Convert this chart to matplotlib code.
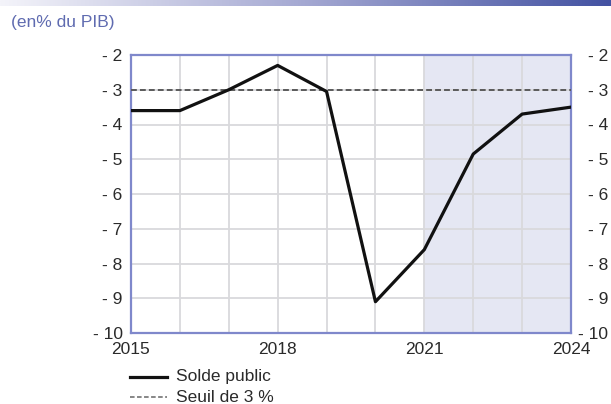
import numpy as np
import matplotlib
matplotlib.use("Agg")
import matplotlib.pyplot as plt
from matplotlib.colors import LinearSegmentedColormap
from matplotlib.lines import Line2D

plt.rcParams['font.family'] = ['Liberation Sans', 'DejaVu Sans']

years = [2015, 2016, 2017, 2018, 2019, 2020, 2021, 2022, 2023, 2024]
solde_public = [-3.6, -3.6, -3.0, -2.3, -3.05, -9.1, -7.6, -4.85, -3.7, -3.5]
seuil = -3.0
forecast_start = 2021
yticks = [-2, -3, -4, -5, -6, -7, -8, -9, -10]
xticks = [2015, 2018, 2021, 2024]
ytick_labels = [f"- {abs(v)}" for v in yticks]

W, H = 611, 404
fig = plt.figure(figsize=(W / 100, H / 100), dpi=100)

# banner gradient across the top edge
band = fig.add_axes([0, 1 - 6 / H, 1, 6 / H])
grad = np.linspace(0, 1, 256).reshape(1, -1)
cmap = LinearSegmentedColormap.from_list("band", ["#f4f4fa", "#a4a8d2", "#4352a2"])
band.imshow(grad, aspect="auto", cmap=cmap)
band.axis("off")

fig.text(11 / W, 1 - 22 / H, "(en% du PIB)", color="#5f6bb0", fontsize=12.5, va="center", ha="left")

ax = fig.add_axes([131 / W, 1 - 333 / H, 440 / W, 278 / H])
ax.axvspan(forecast_start, years[-1], color="#e5e7f3", zorder=0)
ax.set_xlim(years[0], years[-1])
ax.set_ylim(-10, -2)
ax.set_xticks(years, minor=True)
ax.set_xticks(xticks)
ax.set_yticks(yticks)
ax.grid(True, which="both", axis="x", color="#d9d9dc", lw=1.3, zorder=1)
ax.grid(True, which="major", axis="y", color="#d9d9dc", lw=1.3, zorder=1)

ax.plot(years, [seuil] * len(years), color="#5a5a5a", lw=1.4, ls=(0, (3, 1.6)), zorder=3)
ax.plot(years, solde_public, color="#111111", lw=2.3, zorder=4)

for s in ax.spines.values():
    s.set_color("#7f88cb")
    s.set_linewidth(1.6)

ax.tick_params(which="both", length=0, labelsize=12.5, colors="#2a2a2a")
ax.tick_params(axis="y", pad=6)
ax.tick_params(axis="x", pad=6.5)
ax.set_yticklabels(ytick_labels)
ax.set_xticklabels([str(v) for v in xticks])

# right-hand scale, labels right-aligned near the figure edge
ax2 = ax.twinx()
ax2.set_ylim(ax.get_ylim())
ax2.set_yticks(yticks)
ax2.set_yticklabels(ytick_labels, ha="right")
ax2.tick_params(axis="y", length=0, labelsize=12.5, colors="#2a2a2a", pad=37 * 0.72)
for s in ax2.spines.values():
    s.set_visible(False)

# legend drawn below the plot
leg_rows = [
    ("Solde public", dict(color="#111111", lw=2.3)),
    ("Seuil de 3 %", dict(color="#666666", lw=1.1, ls=(0, (3, 1.6)))),
]
for i, (label, style) in enumerate(leg_rows):
    yc = 1 - (377 + 20 * i) / H
    fig.add_artist(Line2D([130 / W, 167 / W], [yc, yc], transform=fig.transFigure, **style))
    fig.text(176 / W, yc, label, fontsize=12.5, color="#2a2a2a", va="center", ha="left")

fig.savefig("out.png", dpi=100)
